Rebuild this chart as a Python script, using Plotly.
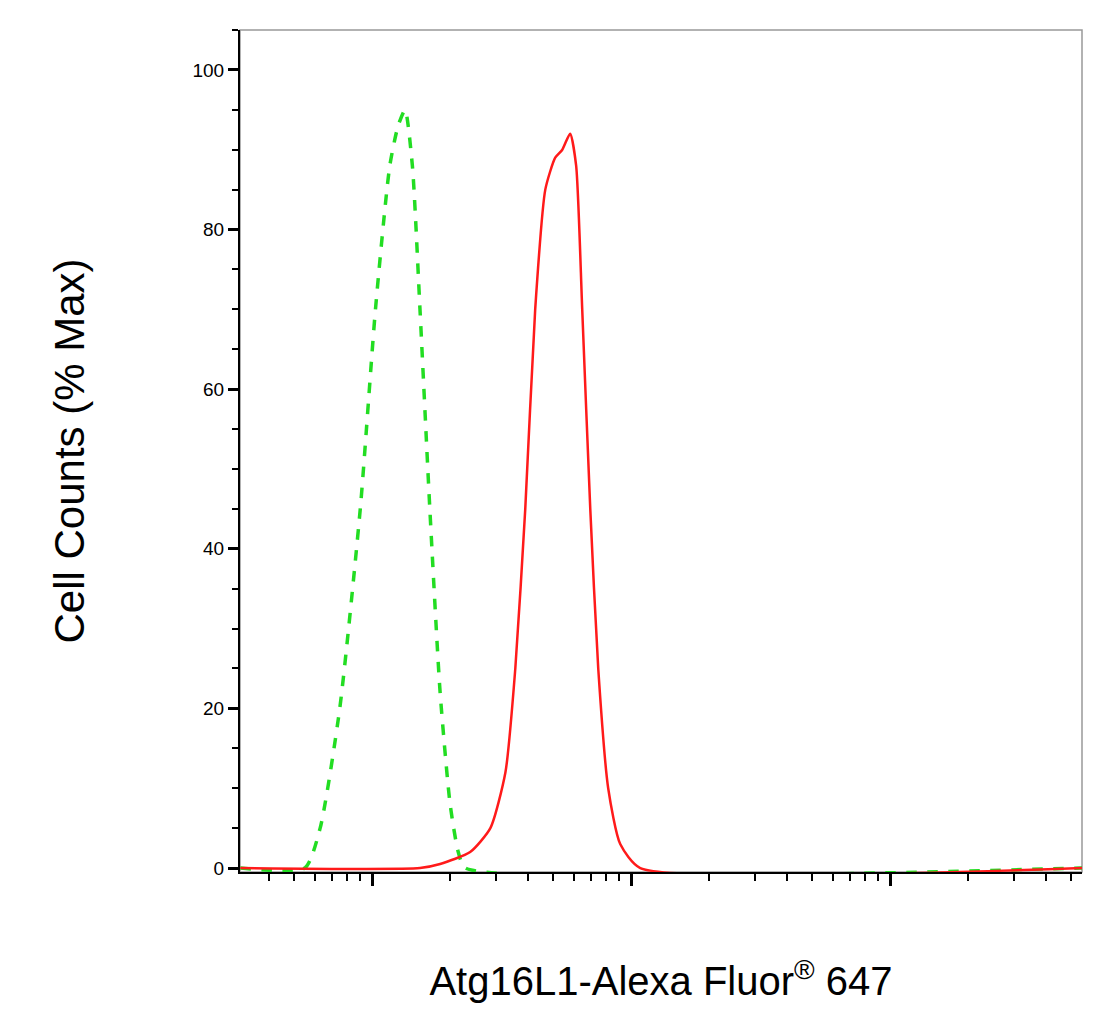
import plotly.graph_objects as go

# isotype control (green dashed)
ctrl_x = [31, 55, 63, 75, 90, 103, 117, 126, 134, 143, 153, 167, 183, 200, 215, 229, 55000]
ctrl_y = [0, 0, 5, 20, 45, 70, 88, 93, 95, 88, 70, 45, 22, 8, 2, 0, 0]

# Atg16L1 stained (red)
atg_x = [31, 153, 183, 239, 286, 327, 357, 390, 426, 466, 509, 542, 581, 613, 647, 695, 746, 815, 907, 1084, 55000]
atg_y = [0, 0, 0.5, 2, 5, 12, 25, 45, 70, 85, 89, 90, 92, 88, 70, 45, 25, 10, 3, 0, 0]

major_x = [100, 1000, 10000]
minor_x = [m * d for d in [10, 100, 1000, 10000] for m in range(2, 10)]

fig = go.Figure()
fig.add_trace(go.Scatter(x=ctrl_x, y=ctrl_y, mode="lines",
                         line=dict(color="#22dd22", width=3.5, dash="dash",
                                   shape="spline", smoothing=0.6)))
fig.add_trace(go.Scatter(x=atg_x, y=atg_y, mode="lines",
                         line=dict(color="#ff1a1a", width=2.5,
                                   shape="spline", smoothing=0.6)))

fig.update_layout(
    width=1114, height=1036, showlegend=False,
    plot_bgcolor="white", paper_bgcolor="white",
    margin=dict(l=232, r=40, t=22, b=172),
    font=dict(family="Liberation Sans, Arial", color="black"),
    xaxis=dict(type="log", range=[1.49, 4.74], showgrid=False, zeroline=False,
               showline=True, linecolor="black", linewidth=2,
               tickvals=major_x, ticktext=["", "", ""],
               ticks="outside", ticklen=12, tickwidth=3, tickcolor="black",
               minor=dict(tickvals=minor_x, ticks="outside", ticklen=7, tickwidth=2,
                          tickcolor="black", showgrid=False),
               title=dict(text="Atg16L1-Alexa Fluor<sup>®</sup> 647",
                          font=dict(size=40), standoff=80)),
    yaxis=dict(range=[-0.5, 105], showgrid=False, zeroline=False,
               showline=True, linecolor="black", linewidth=2,
               dtick=20, ticks="outside", ticklen=10, tickwidth=3, tickcolor="black",
               tickfont=dict(size=19),
               minor=dict(dtick=5, ticks="outside", ticklen=6, tickwidth=2,
                          tickcolor="black", showgrid=False),
               title=dict(text="Cell Counts (% Max)", font=dict(size=42), standoff=95)),
)
# gray frame on top/right
fig.add_shape(type="rect", xref="paper", yref="paper", x0=0, y0=0, x1=1, y1=1,
              line=dict(color="#999999", width=1.5), layer="below")

fig.write_html("out.html")
